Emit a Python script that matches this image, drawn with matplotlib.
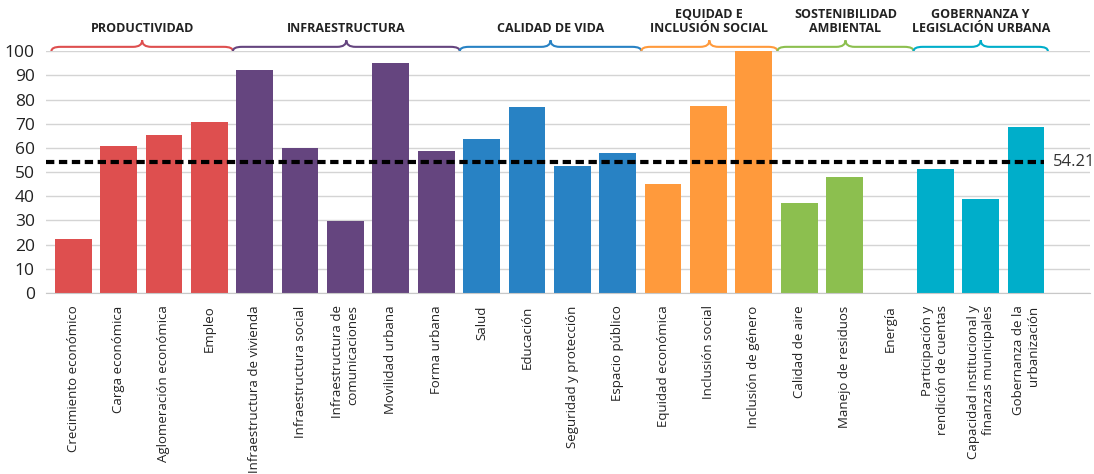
import numpy as np
import matplotlib.pyplot as plt
from matplotlib.path import Path
from matplotlib.patches import PathPatch

# Data
categories = ['Crecimiento económico', 'Carga económica', 'Aglomeración económica', 'Empleo',
              'Infraestructura de vivienda', 'Infraestructura social', 'Infraestructura de\ncomunicaciones',
              'Movilidad urbana', 'Forma urbana',
              'Salud', 'Educación', 'Seguridad y protección', 'Espacio público',
              'Equidad económica', 'Inclusión social', 'Inclusión de género',
              'Calidad de aire', 'Manejo de residuos', 'Energía',
              'Participación y\nrendición de cuentas', 'Capacidad institucional y\nfinanzas municipales',
              'Gobernanza de la\nurbanización']
values = [22.4, 60.7, 65.3, 70.7,
          92.1, 59.9, 29.8, 95.0, 58.7,
          63.6, 76.9, 52.5, 57.9,
          45.0, 77.3, 100.0,
          37.2, 47.9, 0.0,
          51.2, 38.8, 68.6]
groups = ['PRODUCTIVIDAD', 'INFRAESTRUCTURA', 'CALIDAD DE VIDA', 'EQUIDAD E\nINCLUSIÓN SOCIAL',
          'SOSTENIBILIDAD\nAMBIENTAL', 'GOBERNANZA Y\nLEGISLACIÓN URBANA']
group_sizes = [4, 5, 4, 3, 3, 3]
group_colors = ['#DE4F4F', '#65457F', '#2882C4', '#FF9A3C', '#8CBF4F', '#00AECA']
average = 54.21

plt.rcParams['font.family'] = ['Open Sans', 'DejaVu Sans']

fig = plt.figure(figsize=(10.94, 4.74), dpi=100)
ax = fig.add_axes([0.042, 0.382, 0.954, 0.51])

colors = []
for c, n in zip(group_colors, group_sizes):
    colors += [c] * n

x = np.arange(len(categories))
ax.bar(x, values, width=0.81, color=colors, zorder=2)

# average line
ax.plot([-0.6, 21.4], [average, average], color='black', lw=3, ls=(0, (2.0, 1.1)), zorder=3)
ax.text(21.6, average, '%.2f' % average, va='center', ha='left', fontsize=12, color='#333333')

ax.set_xlim(-0.6, 22.4)
ax.set_ylim(0, 100)
ax.set_yticks(np.arange(0, 101, 10))
ax.tick_params(axis='y', labelsize=12.5, length=0, pad=8, colors='#222222')
ax.set_xticks(x)
ax.set_xticklabels(categories, rotation=90, fontsize=9.5, color='#222222', multialignment='right')
ax.tick_params(axis='x', length=0, pad=9)
ax.grid(axis='y', color='#d4d4d4', lw=1, zorder=0)
for s in ['top', 'right', 'left']:
    ax.spines[s].set_visible(False)
ax.spines['bottom'].set_color('#c8c8c8')


def brace(ax, x0, x1, color):
    xm = (x0 + x1) / 2
    r = 0.2
    yb, yh, yt = 100, 101.8, 104.5
    verts = [(x0, yb), (x0, yh), (x0 + r, yh),
             (xm - r, yh), (xm, yh), (xm, yt),
             (xm, yh), (xm + r, yh),
             (x1 - r, yh), (x1, yh), (x1, yb)]
    codes = [Path.MOVETO, Path.CURVE3, Path.CURVE3,
             Path.LINETO, Path.CURVE3, Path.CURVE3,
             Path.CURVE3, Path.CURVE3,
             Path.LINETO, Path.CURVE3, Path.CURVE3]
    p = PathPatch(Path(verts, codes), fill=False, edgecolor=color, lw=1.5, clip_on=False)
    ax.add_patch(p)


start = -0.48
for name, n, c in zip(groups, group_sizes, group_colors):
    end = start + n if name != groups[-1] else start + n - 0.04
    brace(ax, start, end, c)
    ax.text((start + end) / 2, 106.8, name, ha='center', va='bottom', fontsize=9,
            fontweight='bold', color='#222222', linespacing=1.1, clip_on=False)
    start = start + n

plt.savefig('out.png', dpi=100)
